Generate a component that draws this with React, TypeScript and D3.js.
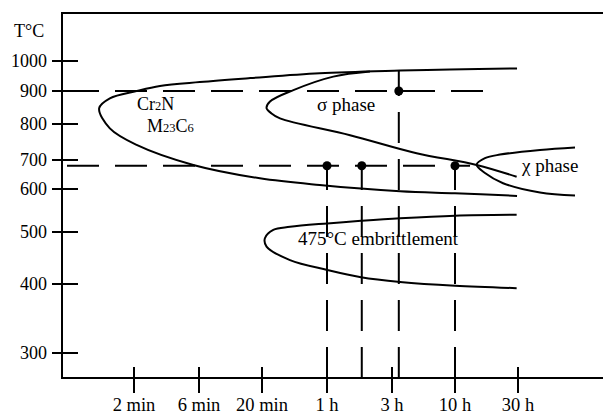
import React from "react";
import * as d3 from "d3";

// Temperature ticks (°C) and time ticks (minutes) with their labels
const tempTicks = [1000, 900, 800, 700, 600, 500, 400, 300];
const timeTicks = [2, 6, 20, 60, 180, 600, 1800];
const timeLabels = ["2 min", "6 min", "20 min", "1 h", "3 h", "10 h", "30 h"];

// C-curves: [time (min), temperature (°C)]
const cr2nM23c6: [number, number][] = [
  [1770, 975], [545, 972], [210, 968], [53, 959], [16, 943], [6.1, 930], [3.1, 917],
  [2.09, 900], [1.33, 878], [1.11, 848], [1.33, 788], [2.09, 742], [5.45, 683],
  [19.2, 637], [53, 614], [210, 595], [600, 590], [1770, 584],
];
const sigmaPhase: [number, number][] = [
  [124, 965], [66.7, 948], [34, 903], [22.9, 868], [21.6, 848], [23.5, 832], [27.1, 817],
  [88.6, 769], [288, 719], [875, 683], [1758, 642],
];
const chiPhase: [number, number][] = [
  [4864, 735], [2641, 728], [1315, 715], [1012, 705], [875, 684], [1012, 655],
  [1387, 620], [2641, 592], [4864, 585],
];
const embrittlement475: [number, number][] = [
  [1758, 540], [600, 538], [210, 532], [106.6, 526], [60.3, 520], [32.1, 512], [24.2, 505],
  [21, 488], [21.6, 472], [32.1, 446], [60.3, 427], [106.6, 413], [210, 404], [600, 397.5],
  [1758, 394],
];

// Isothermal dashed lines: temperature and end time (min)
const isoTemps = [900, 680];
const isoEnds = [1048, 780];

// Hold points (time in min, temperature) and top of their vertical dashed lines
const holdTimes = [60, 108, 205, 600];
const holdTemps = [680, 680, 900, 680];
const holdTops = [680, 680, 968, 680];

const FONT = "Liberation Serif, DejaVu Serif, serif";

export default function App() {
  const W = 603;
  const H = 415;
  const left = 62;
  const top = 13;
  const bottom = 378;
  const right = 603;

  const x = d3.scaleLog().domain(timeTicks).range([134, 199, 262, 327, 392, 455, 518]);
  const y = d3.scaleLinear().domain(tempTicks).range([61, 91, 124, 160, 189, 232, 284, 353]);

  const line = d3
    .line<[number, number]>()
    .x((d) => x(d[0]))
    .y((d) => y(d[1]))
    .curve(d3.curveCatmullRom.alpha(0.5));

  const curves = [cr2nM23c6, sigmaPhase, chiPhase, embrittlement475];
  const ts = (size: number): React.CSSProperties => ({ fontFamily: FONT, fontSize: size });

  return (
    <svg
      width={W}
      height={H}
      style={{ position: "absolute", left: 0, top: 0, display: "block", background: "#fff" }}
    >
      {/* isothermal dashed lines */}
      {isoTemps.map((t, i) => (
        <line
          key={"h" + i}
          x1={left}
          x2={x(isoEnds[i])}
          y1={y(t)}
          y2={y(t)}
          stroke="#000"
          strokeWidth={2}
          strokeDasharray="32,16"
          strokeDashoffset={43}
        />
      ))}
      {/* vertical dashed lines */}
      {holdTimes.map((tm, i) => (
        <line
          key={"v" + i}
          x1={x(tm)}
          x2={x(tm)}
          y1={bottom}
          y2={y(holdTops[i])}
          stroke="#000"
          strokeWidth={2}
          strokeDasharray="31,16"
        />
      ))}
      {/* curves */}
      {curves.map((c, i) => (
        <path key={"c" + i} d={line(c) || ""} fill="none" stroke="#000" strokeWidth={2} />
      ))}
      {/* hold dots */}
      {holdTimes.map((tm, i) => (
        <circle key={"d" + i} cx={x(tm)} cy={y(holdTemps[i])} r={4.5} fill="#000" />
      ))}
      {/* frame / axes */}
      <path
        d={`M${right},${top}H${left}V${bottom}H${right}`}
        fill="none"
        stroke="#000"
        strokeWidth={2}
      />
      {tempTicks.map((t) => (
        <g key={"yt" + t}>
          <line x1={52} x2={78} y1={y(t)} y2={y(t)} stroke="#000" strokeWidth={2} />
          <text x={47} y={y(t) + 6} style={ts(18)} textAnchor="end">
            {t}
          </text>
        </g>
      ))}
      {timeTicks.map((t, i) => (
        <g key={"xt" + t}>
          <line x1={x(t)} x2={x(t)} y1={367} y2={393} stroke="#000" strokeWidth={2} />
          <text x={x(t)} y={411} style={ts(18.5)} textAnchor="middle">
            {timeLabels[i]}
          </text>
        </g>
      ))}
      <text x={14} y={37} style={ts(18)}>
        T°C
      </text>
      {/* labels */}
      <text x={137} y={110} style={ts(18)}>
        Cr<tspan style={{ fontSize: 12.5 }}>2</tspan>N
      </text>
      <text x={147} y={131.5} style={ts(18)}>
        M<tspan style={{ fontSize: 12.5 }}>23</tspan>C<tspan style={{ fontSize: 12.5 }}>6</tspan>
      </text>
      <text x={317} y={111} style={ts(19)}>
        σ phase
      </text>
      <text x={522} y={172} style={ts(19)}>
        χ phase
      </text>
      <text x={298} y={245} style={ts(19)}>
        475°C embrittlement
      </text>
    </svg>
  );
}
